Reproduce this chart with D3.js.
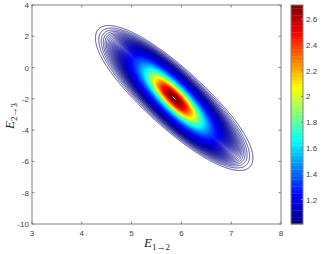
<!DOCTYPE html>
<html>
<head>
<meta charset="utf-8">
<script src="https://cdn.jsdelivr.net/npm/d3@7"></script>
<style>
  body { margin: 0; background: #fff; }
  text { font-family: "Liberation Sans", Arial, sans-serif; }
</style>
</head>
<body>
<svg id="chart" width="321" height="254"></svg>
<script>
// ticks and ranges
const xTicks = [3, 4, 5, 6, 7, 8];
const yTicks = [-10, -8, -6, -4, -2, 0, 2, 4];
const cTicks = [1.2, 1.4, 1.6, 1.8, 2, 2.2, 2.4, 2.6];
const xDomain = [3, 8];
const yDomain = [-10, 4];
const cDomain = [1.01, 2.71];

// surface: exp(exp(-q/2)), q = mahalanobis distance to the peak
const peakCentre = [5.85, -1.93];
const peakSpread = [0.482, 1.563];
const peakCorr = [-0.85];
const peakTwist = [-0.006]; // outer rings turn slightly flatter
// contour levels: first, last, step
const levelSpec = [1.008, 2.71, 0.0035];

const m = { left: 32, top: 5, right: 281, bottom: 224 };
const svg = d3.select("#chart");

const x = d3.scaleLinear().domain(xDomain).range([m.left, m.right]);
const y = d3.scaleLinear().domain(yDomain).range([m.bottom, m.top]);

// jet colormap, 64 steps like matlab
const jet = (t) => {
  const k = Math.max(0, Math.min(63, Math.floor(t * 64)));
  const s = k / 63;
  const c = (v) => 255 * Math.max(0, Math.min(1, v));
  return d3.rgb(c(1.5 - Math.abs(4 * s - 3)), c(1.5 - Math.abs(4 * s - 2)), c(1.5 - Math.abs(4 * s - 1)));
};
const cNorm = d3.scaleLinear().domain(cDomain).range([0, 1]).clamp(true);

// sample the surface on a grid round the peak (2 samples per pixel)
const res = 2;
const box = { x0: 85, y0: 10, x1: 265, y1: 190 };
const nx = (box.x1 - box.x0) * res;
const ny = (box.y1 - box.y0) * res;
const values = new Float64Array(nx * ny);
const [sx, sy] = peakSpread;
const rho = peakCorr[0];
const mahal = (u, v) => (u * u - 2 * rho * u * v + v * v) / (1 - rho * rho);
for (let j = 0; j < ny; j++) {
  const yv = y.invert(box.y0 + j / res);
  for (let i = 0; i < nx; i++) {
    const xv = x.invert(box.x0 + i / res);
    const u = (xv - peakCentre[0]) / sx;
    const v = (yv - peakCentre[1]) / sy;
    const phi = peakTwist[0] * mahal(u, v);
    const c = Math.cos(phi), s = Math.sin(phi);
    const q = mahal(u * c - v * s, u * s + v * c);
    values[j * nx + i] = Math.exp(Math.exp(-q / 2));
  }
}

const levels = d3.range(levelSpec[0], levelSpec[1], levelSpec[2]);

const contours = d3.contours().size([nx, ny]).thresholds(levels)(values);
const path = d3.geoPath(d3.geoIdentity().scale(1 / res).translate([box.x0, box.y0]));

svg.append("g")
  .selectAll("path")
  .data(contours)
  .join("path")
  .attr("d", path)
  .attr("fill", "none")
  .attr("stroke", (d) => jet(cNorm(d.value)))
  .attr("stroke-width", 0.7);

// axes box
const axisColor = "#808080";
const tick = 2.5;
const gAx = svg.append("g").attr("stroke", axisColor).attr("stroke-width", 1);
gAx.append("rect")
  .attr("x", m.left).attr("y", m.top)
  .attr("width", m.right - m.left).attr("height", m.bottom - m.top)
  .attr("fill", "none");
xTicks.forEach((t) => {
  gAx.append("line").attr("x1", x(t)).attr("x2", x(t)).attr("y1", m.bottom).attr("y2", m.bottom - tick);
  gAx.append("line").attr("x1", x(t)).attr("x2", x(t)).attr("y1", m.top).attr("y2", m.top + tick);
});
yTicks.forEach((t) => {
  gAx.append("line").attr("x1", m.left).attr("x2", m.left + tick).attr("y1", y(t)).attr("y2", y(t));
  gAx.append("line").attr("x1", m.right).attr("x2", m.right - tick).attr("y1", y(t)).attr("y2", y(t));
});

const labColor = "#404040";
svg.append("g").selectAll("text").data(xTicks).join("text")
  .attr("x", (d) => x(d)).attr("y", m.bottom + 12)
  .attr("text-anchor", "middle").attr("font-size", 8).attr("fill", labColor)
  .text((d) => d);
svg.append("g").selectAll("text").data(yTicks).join("text")
  .attr("x", m.left - 3).attr("y", (d) => y(d) + 3)
  .attr("text-anchor", "end").attr("font-size", 8).attr("fill", labColor)
  .text((d) => d);

// axis labels (latex-ish)
const xl = svg.append("text")
  .attr("x", 157).attr("y", 247)
  .attr("text-anchor", "middle")
  .style("font-family", "'Liberation Serif', 'DejaVu Serif', serif")
  .attr("fill", "#222");
xl.append("tspan").attr("font-style", "italic").attr("font-size", 13).text("E");
xl.append("tspan").attr("font-size", 9).attr("dy", 3).text("1\u21922");

const yl = svg.append("text")
  .attr("transform", "translate(14,116) rotate(-90)")
  .attr("text-anchor", "middle")
  .style("font-family", "'Liberation Serif', 'DejaVu Serif', serif")
  .attr("fill", "#222");
yl.append("tspan").attr("font-style", "italic").attr("font-size", 13).text("E");
yl.append("tspan").attr("font-size", 9).attr("dy", 3).text("2\u21923");

// colorbar
const cb = { left: 291, right: 303, top: 5, bottom: 224 };
const cy = d3.scaleLinear().domain(cDomain).range([cb.bottom, cb.top]);
const steps = d3.range(64);
const stepH = (cb.bottom - cb.top) / 64;
svg.append("g").selectAll("rect").data(steps).join("rect")
  .attr("x", cb.left).attr("width", cb.right - cb.left)
  .attr("y", (d) => cb.bottom - (d + 1) * stepH)
  .attr("height", stepH + 0.3)
  .attr("fill", (d) => jet((d + 0.5) / 64));
svg.append("rect")
  .attr("x", cb.left).attr("y", cb.top)
  .attr("width", cb.right - cb.left).attr("height", cb.bottom - cb.top)
  .attr("fill", "none").attr("stroke", axisColor);
const gcb = svg.append("g");
cTicks.forEach((t) => {
  gcb.append("line")
    .attr("x1", cb.right).attr("x2", cb.right - 2)
    .attr("y1", cy(t)).attr("y2", cy(t))
    .attr("stroke", axisColor);
  gcb.append("text")
    .attr("x", cb.right + 3).attr("y", cy(t) + 3)
    .attr("font-size", 8).attr("fill", labColor)
    .text(t);
});
</script>
</body>
</html>
